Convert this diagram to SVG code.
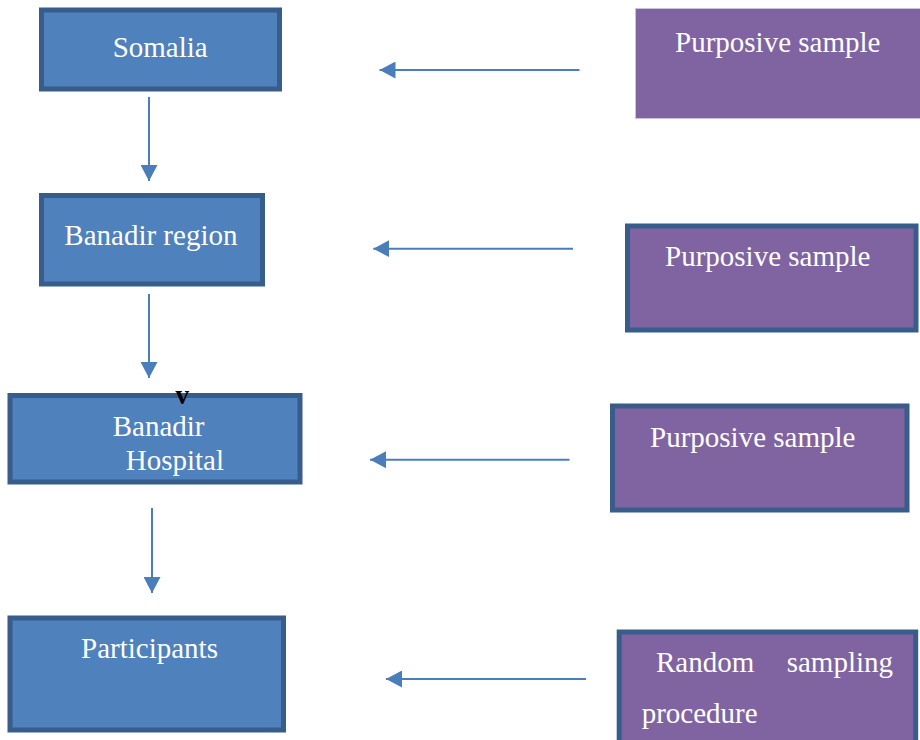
<svg xmlns="http://www.w3.org/2000/svg" width="920" height="740" viewBox="0 0 920 740">
<style>
.blue{fill:#4f81bd;stroke:#385d8a;stroke-width:5}
.purple{fill:#8064a2;stroke:#385d8a;stroke-width:5}
.plain{fill:#8064a2;stroke:#c9c2d8;stroke-width:1}
.t{font-family:"Liberation Serif","Times New Roman",serif;font-size:29px;fill:#ffffff}
.c{stroke:#4a7ebb;stroke-width:2;fill:none}
</style>
<defs>
<marker id="ah" viewBox="0 0 16 17" refX="16" refY="8.5" markerWidth="16" markerHeight="17" markerUnits="userSpaceOnUse" orient="auto">
<path d="M0,0 L16,8.5 L0,17 Z" fill="#4a7ebb"/>
</marker>
</defs>
<rect width="920" height="740" fill="#ffffff"/>
<g id="somalia">
<rect class="blue" x="41.5" y="10" width="238" height="79"/>
<text class="t" x="112.7" y="57">Somalia</text>
</g>
<g id="banadir-region">
<rect class="blue" x="41.5" y="195.5" width="221" height="88.5"/>
<text class="t" x="64.3" y="245">Banadir region</text>
</g>
<g id="banadir-hospital">
<rect class="blue" x="10" y="395.5" width="290" height="86.5"/>
<text class="t" x="112.7" y="436">Banadir</text>
<text class="t" x="125.7" y="469.5">Hospital</text>
<text x="175.5" y="404" font-family="Liberation Serif, serif" font-size="27" font-weight="bold" fill="#000000">v</text>
</g>
<g id="participants">
<rect class="blue" x="10" y="618" width="273.5" height="112"/>
<text class="t" x="81" y="657.5">Participants</text>
</g>
<g id="purposive-1">
<rect class="plain" x="635.5" y="8.5" width="290" height="110"/>
<text class="t" x="675" y="51.7">Purposive sample</text>
</g>
<g id="purposive-2">
<rect class="purple" x="627.5" y="226" width="288.5" height="104"/>
<text class="t" x="665" y="265.7">Purposive sample</text>
</g>
<g id="purposive-3">
<rect class="purple" x="612.5" y="406" width="294.5" height="104"/>
<text class="t" x="650" y="446.7">Purposive sample</text>
</g>
<g id="random">
<rect class="purple" x="619.2" y="632" width="296.5" height="120"/>
<text class="t" x="656" y="671.7">Random</text>
<text class="t" x="786.7" y="671.7">sampling</text>
<text class="t" x="641.7" y="723.3">procedure</text>
</g>
<g id="connectors">
<line class="c" x1="149" y1="97" x2="149" y2="181" marker-end="url(#ah)"/>
<line class="c" x1="149" y1="294" x2="149" y2="378" marker-end="url(#ah)"/>
<line class="c" x1="152" y1="508" x2="152" y2="593" marker-end="url(#ah)"/>
<line class="c" x1="579.5" y1="70" x2="379.5" y2="70" marker-end="url(#ah)"/>
<line class="c" x1="573" y1="248.7" x2="373.3" y2="248.7" marker-end="url(#ah)"/>
<line class="c" x1="569.5" y1="459.7" x2="370" y2="459.7" marker-end="url(#ah)"/>
<line class="c" x1="586" y1="679" x2="386" y2="679" marker-end="url(#ah)"/>
</g>
</svg>
